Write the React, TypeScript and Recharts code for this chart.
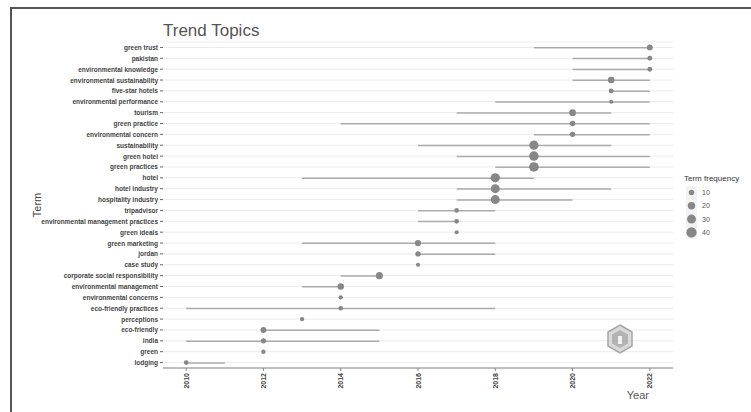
import {
  ComposedChart,
  Bar,
  Scatter,
  XAxis,
  YAxis,
  ZAxis,
  CartesianGrid,
} from "recharts";

// terms listed top to bottom as in the plot
const terms = [
  "green trust",
  "pakistan",
  "environmental knowledge",
  "environmental sustainability",
  "five-star hotels",
  "environmental performance",
  "tourism",
  "green practice",
  "environmental concern",
  "sustainability",
  "green hotel",
  "green practices",
  "hotel",
  "hotel industry",
  "hospitality industry",
  "tripadvisor",
  "environmental management practices",
  "green ideals",
  "green marketing",
  "jordan",
  "case study",
  "corporate social responsibility",
  "environmental management",
  "environmental concerns",
  "eco-friendly practices",
  "perceptions",
  "eco-friendly",
  "india",
  "green",
  "lodging",
];

const yearQ1 = [
  2019, 2020, 2020, 2020, 2021, 2018, 2017, 2014, 2019, 2016, 2017, 2018, 2013,
  2017, 2017, 2016, 2016, 2017, 2013, 2016, 2016, 2014, 2013, 2014, 2010, 2013,
  2012, 2010, 2012, 2010,
];
const yearMedian = [
  2022, 2022, 2022, 2021, 2021, 2021, 2020, 2020, 2020, 2019, 2019, 2019, 2018,
  2018, 2018, 2017, 2017, 2017, 2016, 2016, 2016, 2015, 2014, 2014, 2014, 2013,
  2012, 2012, 2012, 2010,
];
const yearQ3 = [
  2022, 2022, 2022, 2022, 2022, 2022, 2021, 2022, 2022, 2021, 2022, 2022, 2019,
  2021, 2020, 2018, 2017, 2017, 2018, 2018, 2016, 2015, 2014, 2014, 2018, 2013,
  2015, 2015, 2012, 2011,
];
const termFreq = [
  12, 8, 8, 15, 8, 5, 17, 10, 10, 32, 34, 35, 32, 30, 30, 7, 7, 5, 14, 10, 5,
  18, 15, 6, 7, 6, 12, 9, 6, 7,
];

const yearTicks = [2010, 2012, 2014, 2016, 2018, 2020, 2022];
const legendFreqs = [10, 20, 30, 40];

const sizeDomain = [0, 45];
const sizeRange = [3, 93];

const data = terms.map((term, i) => ({
  term,
  range: [yearQ1[i], yearQ3[i]],
  median: yearMedian[i],
  freq: termFreq[i],
}));

const legendRadius = (f: number) => {
  const area =
    sizeRange[0] +
    ((sizeRange[1] - sizeRange[0]) * (f - sizeDomain[0])) /
      (sizeDomain[1] - sizeDomain[0]);
  return Math.sqrt(area / Math.PI);
};

const YearTick = (props: any) => {
  const { x, y, payload } = props;
  return (
    <text
      transform={`translate(${x},${y}) rotate(-90)`}
      textAnchor="end"
      dominantBaseline="central"
      fontSize={7}
      fontWeight="bold"
      fill="#444"
    >
      {payload.value}
    </text>
  );
};

const TermTick = (props: any) => {
  const { x, y, payload } = props;
  return (
    <text
      x={x}
      y={y}
      textAnchor="end"
      dominantBaseline="central"
      fontSize={6.5}
      fontWeight="bold"
      fill="#444"
    >
      {payload.value}
    </text>
  );
};

export default function App() {
  return (
    <div
      style={{
        position: "relative",
        width: 751,
        height: 412,
        background: "#fff",
        fontFamily: "'Liberation Sans', Arial, sans-serif",
      }}
    >
      <style>{"body{margin:0}"}</style>
      <ComposedChart
        width={751}
        height={412}
        data={data}
        layout="vertical"
        margin={{ top: 42, right: 78, bottom: 0, left: 0 }}
      >
        <CartesianGrid vertical={false} stroke="#ebebeb" />
        <XAxis
          type="number"
          dataKey="median"
          domain={[2009.4, 2022.6]}
          ticks={yearTicks}
          allowDataOverflow
          height={44}
          tick={<YearTick />}
          tickSize={3}
          tickMargin={2}
          stroke="#888"
        />
        <YAxis
          type="category"
          dataKey="term"
          width={163}
          interval={0}
          axisLine={false}
          tickSize={3}
          tickMargin={2}
          stroke="#666"
          tick={<TermTick />}
        />
        <ZAxis dataKey="freq" domain={sizeDomain} range={sizeRange} />
        <Bar
          dataKey="range"
          barSize={1.5}
          fill="#ababab"
          isAnimationActive={false}
        />
        <Scatter fill="#878787" isAnimationActive={false} />
      </ComposedChart>

      <svg
        width={751}
        height={412}
        style={{ position: "absolute", left: 0, top: 0, pointerEvents: "none" }}
      >
        <line x1={10} y1={8} x2={751} y2={8} stroke="#555" strokeWidth={2} />
        <line x1={11} y1={8} x2={11} y2={412} stroke="#555" strokeWidth={2} />
        <text x={163} y={36} fontSize={17} fill="#555">
          Trend Topics
        </text>
        <text
          transform="translate(41,205) rotate(-90)"
          textAnchor="middle"
          fontSize={11}
          fill="#444"
        >
          Term
        </text>
        <text x={649} y={399} textAnchor="end" fontSize={11} fill="#555">
          Year
        </text>

        <text x={684} y={181} fontSize={8} fill="#333">
          Term frequency
        </text>
        <rect x={686} y={186} width={11} height={53} fill="#f2f2f2" />
        {legendFreqs.map((f, i) => (
          <g key={f}>
            <circle
              cx={691.5}
              cy={192.5 + i * 13.3}
              r={legendRadius(f)}
              fill="#878787"
            />
            <text
              x={702}
              y={192.5 + i * 13.3}
              dominantBaseline="central"
              fontSize={7}
              fill="#555"
            >
              {f}
            </text>
          </g>
        ))}

        <g transform="translate(620,339)" opacity={0.75}>
          <polygon
            points="0,-14 12,-7 12,7 0,14 -12,7 -12,-7"
            fill="#cfcfcf"
            stroke="#8a8a8a"
            strokeWidth={1.5}
          />
          <polygon
            points="0,-9 8,-4.5 8,4.5 0,9 -8,4.5 -8,-4.5"
            fill="#9a9a9a"
          />
          <rect x={-2} y={-3} width={4} height={8} fill="#eee" />
        </g>
      </svg>
    </div>
  );
}
